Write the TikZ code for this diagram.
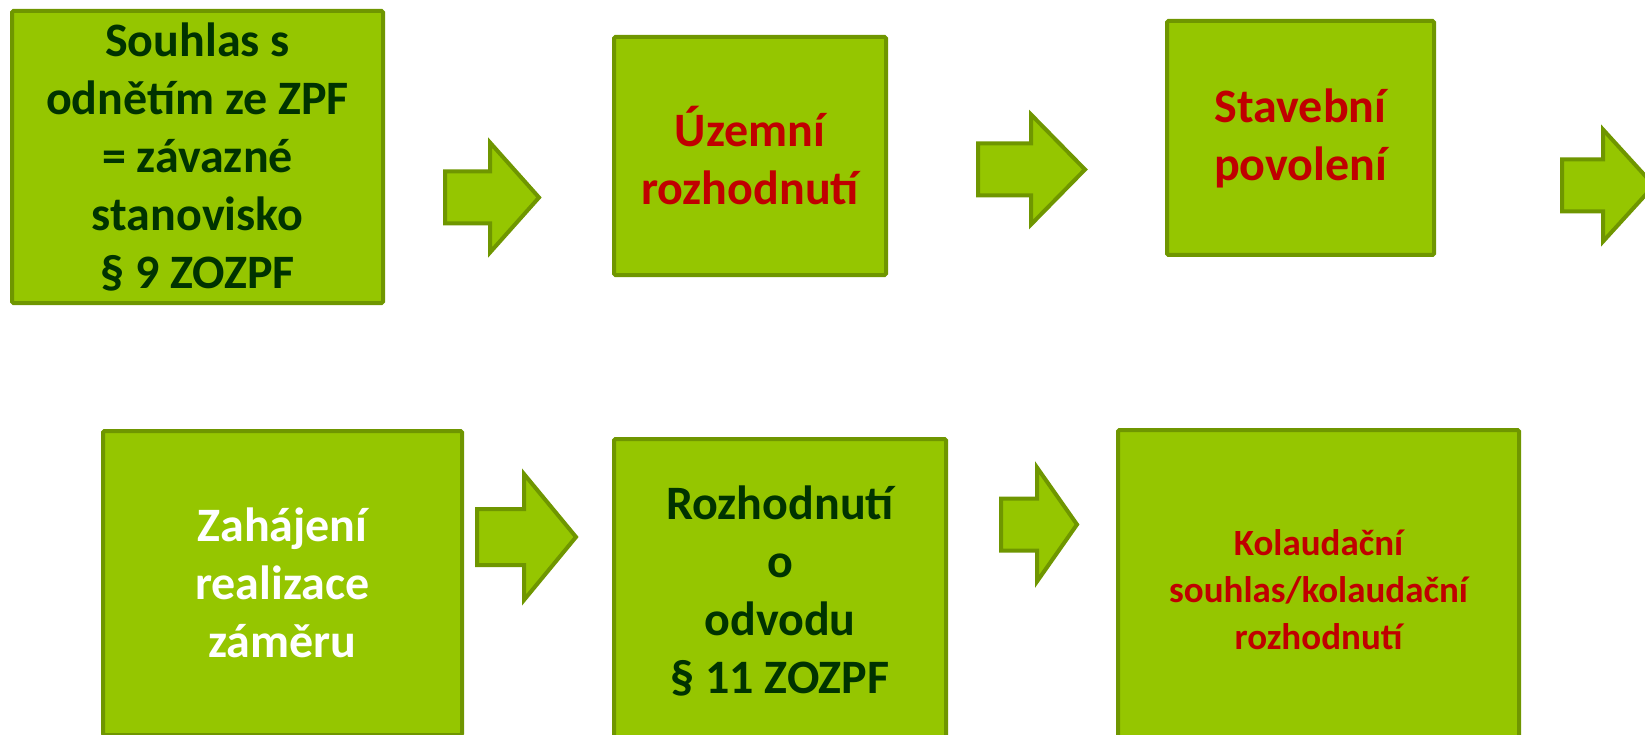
\documentclass[tikz,border=0pt]{standalone}
\usepackage{fontspec}
\setmainfont{Carlito}

\definecolor{boxgreen}{HTML}{95C600}
\definecolor{edgegreen}{HTML}{6F9600}
\definecolor{textgreen}{HTML}{003300}
\definecolor{textred}{HTML}{C00000}

\tikzset{
  box/.style={draw=edgegreen, fill=boxgreen, line width=4pt, rounded corners=1.5pt,
    align=center, inner sep=0pt, font=\bfseries\fontsize{48}{58}\selectfont},
  blockarrow/.style={draw=edgegreen, fill=boxgreen, line width=4pt, line join=miter},
}

% block arrow: left x, middle y, head base, tip, half head, half shaft
\newcommand{\garrow}[6]{%
  \draw[blockarrow] (#1,#2-#6) -- (#1+#3,#2-#6) -- (#1+#3,#2-#5) -- (#1+#4,#2)
    -- (#1+#3,#2+#5) -- (#1+#3,#2+#6) -- (#1,#2+#6) -- cycle;}

\begin{document}
\begin{tikzpicture}[x=1pt,y=-1pt]
  \useasboundingbox (0,0) rectangle (1645,735);
  \clip (0,0) rectangle (1645,735);

  % top row
  \node[box, text=textgreen, minimum width=371pt, minimum height=292pt] (souhlas) at (197.5,157)
    {Souhlas s\\odnětím ze ZPF\\= závazné\\stanovisko\\§ 9 ZOZPF};
  \node[box, text=textred, minimum width=272pt, minimum height=238pt] (uzemni) at (750,156)
    {Územní\\rozhodnutí};
  \node[box, text=textred, minimum width=267pt, minimum height=234pt] (stavebni) at (1300.5,138)
    {Stavební\\povolení};

  % bottom row
  \node[box, text=white, minimum width=359pt, minimum height=304pt] (zahajeni) at (282.5,583)
    {Zahájení\\realizace\\záměru};
  \node[box, text=textgreen, minimum width=332pt, minimum height=304pt] (odvod) at (780,591)
    {Rozhodnutí\\o\\odvodu\\§ 11 ZOZPF};
  \node[box, text=textred, minimum width=401pt, minimum height=320pt,
    font=\bfseries\fontsize{37}{47}\selectfont] (kolaudace) at (1318.5,590)
    {Kolaudační\\souhlas/kolaudační\\rozhodnutí};

  \garrow{445}{197.5}{45}{94}{55}{26}
  \garrow{978}{169.5}{53}{107}{55}{26}
  \garrow{1562}{185.5}{41}{92}{56}{26}
  \garrow{477}{537}{47}{99}{63}{28}
  \garrow{1001}{524.5}{36}{76}{57}{26}
\end{tikzpicture}
\end{document}
